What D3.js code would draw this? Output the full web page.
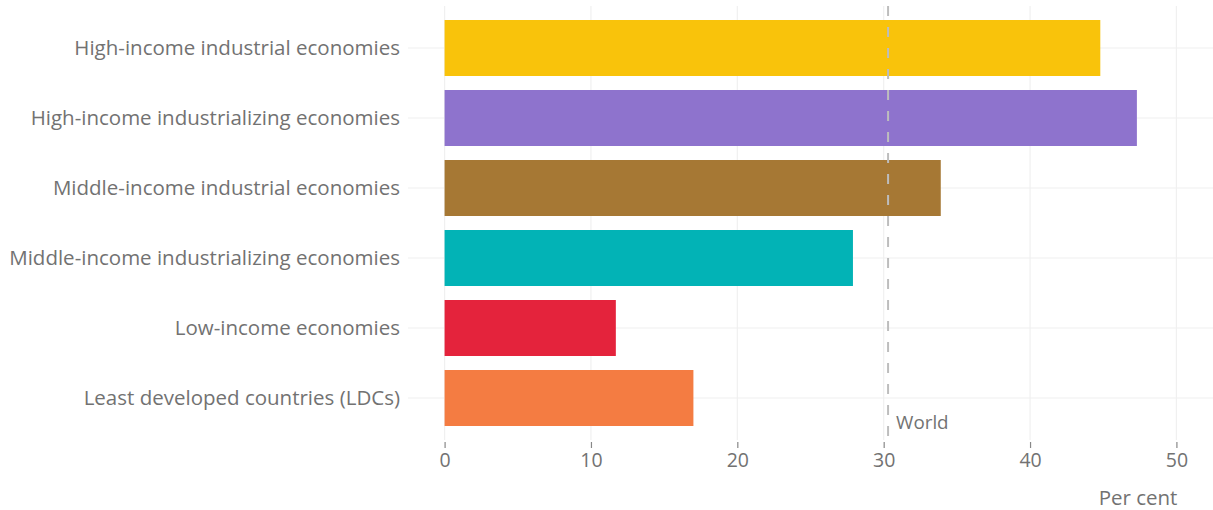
<!DOCTYPE html>
<html>
<head>
<meta charset="utf-8">
<script src="https://cdn.jsdelivr.net/npm/d3@7"></script>
<style>
  body { margin: 0; background: #fff; }
  text { font-family: "Open Sans", "Noto Sans", sans-serif; }
</style>
</head>
<body>
<script>
// ---------- DATA ----------
var categories = [
  "High-income industrial economies",
  "High-income industrializing economies",
  "Middle-income industrial economies",
  "Middle-income industrializing economies",
  "Low-income economies",
  "Least developed countries (LDCs)"
];
var values = [44.8, 47.3, 33.9, 27.9, 11.7, 17.0];
var colors = ["#f9c30b", "#8e73cd", "#a67834", "#02b3b6", "#e4233c", "#f47c42"];
var xTicks = [0, 10, 20, 30, 40, 50];
var worldValue = 30.3;
var worldLabel = "World";
var xTitle = "Per cent";

// ---------- DIMENSIONS ----------
var w = 1213, h = 510;
var panel = { left: 408, right: 1213, top: 6, bottom: 440 };
var textColor = "#727272";

var svg = d3.select("body").append("svg")
  .attr("width", w)
  .attr("height", h);

// ---------- SCALES ----------
var x = d3.scaleLinear()
  .domain([-2.5, 52.5])
  .range([panel.left, panel.right]);

// ggplot-like discrete expansion (0.6 of a step on each side)
var y = d3.scalePoint()
  .domain(categories)
  .range([panel.top, panel.bottom])
  .padding(0.6);
var step = y.step();
var barH = step * 0.8;

// ---------- GRID ----------
svg.append("g").selectAll("line")
  .data(xTicks)
  .enter().append("line")
  .attr("x1", d => x(d)).attr("x2", d => x(d))
  .attr("y1", panel.top).attr("y2", panel.bottom)
  .attr("stroke", "#f0f0f0")
  .attr("stroke-width", 1.2);

svg.append("g").selectAll("line")
  .data(categories)
  .enter().append("line")
  .attr("x1", panel.left).attr("x2", panel.right)
  .attr("y1", d => y(d)).attr("y2", d => y(d))
  .attr("stroke", "#f0f0f0")
  .attr("stroke-width", 1.2);

// ---------- BARS ----------
svg.append("g").selectAll("rect")
  .data(values)
  .enter().append("rect")
  .attr("x", x(0))
  .attr("y", (d, i) => y(categories[i]) - barH / 2)
  .attr("width", d => x(d) - x(0))
  .attr("height", barH)
  .attr("fill", (d, i) => colors[i]);

// ---------- WORLD LINE ----------
svg.append("line")
  .attr("x1", x(worldValue)).attr("x2", x(worldValue))
  .attr("y1", panel.top).attr("y2", panel.bottom)
  .attr("stroke", "#bdbdbd")
  .attr("stroke-width", 2)
  .attr("stroke-dasharray", "10,11");

svg.append("text")
  .text(worldLabel)
  .attr("x", x(worldValue) + 8)
  .attr("y", panel.bottom - 11)
  .attr("font-size", "18.8px")
  .attr("fill", textColor);

// ---------- Y LABELS ----------
svg.append("g").selectAll("text")
  .data(categories)
  .enter().append("text")
  .text(d => d)
  .attr("x", 400)
  .attr("y", d => y(d))
  .attr("dy", "0.35em")
  .attr("text-anchor", "end")
  .attr("font-size", "20.5px")
  .attr("fill", textColor);

// ---------- X AXIS ----------
var xAxis = svg.append("g")
  .attr("transform", "translate(0," + (panel.bottom + 2) + ")")
  .call(d3.axisBottom(x).tickValues(xTicks).tickSize(6).tickPadding(5));
xAxis.select(".domain").remove();
xAxis.selectAll(".tick line").attr("stroke", "#888").attr("stroke-width", 1.2);
xAxis.selectAll(".tick text")
  .attr("font-size", "19.5px")
  .attr("font-family", "\"Open Sans\", \"Noto Sans\", sans-serif")
  .attr("fill", textColor);

svg.append("text")
  .text(xTitle)
  .attr("x", x(50) + 1)
  .attr("y", 505)
  .attr("text-anchor", "end")
  .attr("font-size", "20.5px")
  .attr("fill", textColor);
</script>
</body>
</html>
